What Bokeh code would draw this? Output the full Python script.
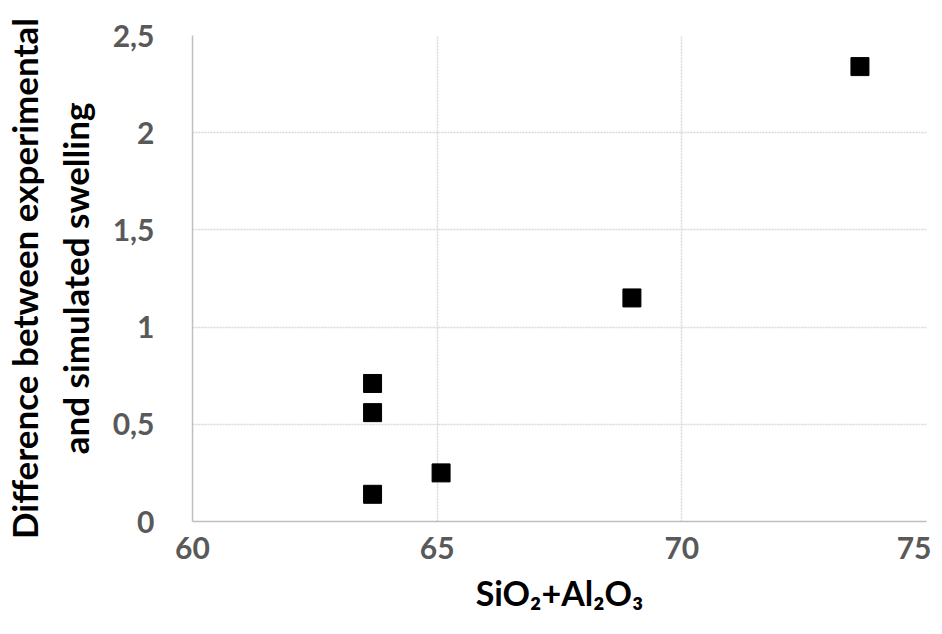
from bokeh.embed import file_html
from bokeh.resources import INLINE
from bokeh.models import FixedTicker, CustomJSTickFormatter, Range1d
from bokeh.plotting import figure

# data
sio2_al2o3 = [63.68, 63.68, 63.68, 65.08, 68.98, 73.64]
swelling_diff = [0.71, 0.56, 0.14, 0.25, 1.15, 2.34]

x_ticks = [60, 65, 70, 75]
y_ticks = [0, 0.5, 1, 1.5, 2, 2.5]

FONT = "Lato"
TICK_COLOR = "#595959"

p = figure(width=926, height=618, output_backend="svg", toolbar_location=None,
           x_range=Range1d(60, 75), y_range=Range1d(0, 2.5),
           frame_width=734, frame_height=486,
           min_border_left=187, min_border_right=5,
           min_border_top=35, min_border_bottom=40)
p.outline_line_color = None

p.scatter(sio2_al2o3, swelling_diff, marker="square", size=18,
          fill_color="black", line_color="black")

comma = CustomJSTickFormatter(code="return tick.toString().replace('.', ',');")

p.xaxis.ticker = FixedTicker(ticks=x_ticks)
p.yaxis.ticker = FixedTicker(ticks=y_ticks)
p.yaxis.formatter = comma

for ax in (p.xaxis, p.yaxis):
    ax.major_tick_line_color = None
    ax.minor_tick_line_color = None
    ax.axis_line_color = "#bfbfbf"
    ax.axis_line_width = 1.5
    ax.major_label_text_font = FONT
    ax.major_label_text_font_style = "bold"
    ax.major_label_text_font_size = "30px"
    ax.major_label_text_color = TICK_COLOR
    ax.axis_label_text_font = FONT
    ax.axis_label_text_font_style = "bold"
    ax.axis_label_text_color = "black"

p.xaxis.major_label_standoff = 9
p.yaxis.major_label_standoff = 32
p.xaxis.axis_label = "SiO\u2082+Al\u2082O\u2083"
p.xaxis.axis_label_text_font_size = "34px"
p.xaxis.axis_label_standoff = 10
p.yaxis.axis_label = "Difference between experimental\nand simulated swelling"
p.yaxis.axis_label_text_font_size = "35px"
p.yaxis.axis_label_standoff = 14

p.grid.grid_line_color = "#d9d9d9"
p.grid.grid_line_dash = "2 1"
p.grid.grid_line_width = 1.5

open("out.html", "w").write(file_html(p, INLINE))
